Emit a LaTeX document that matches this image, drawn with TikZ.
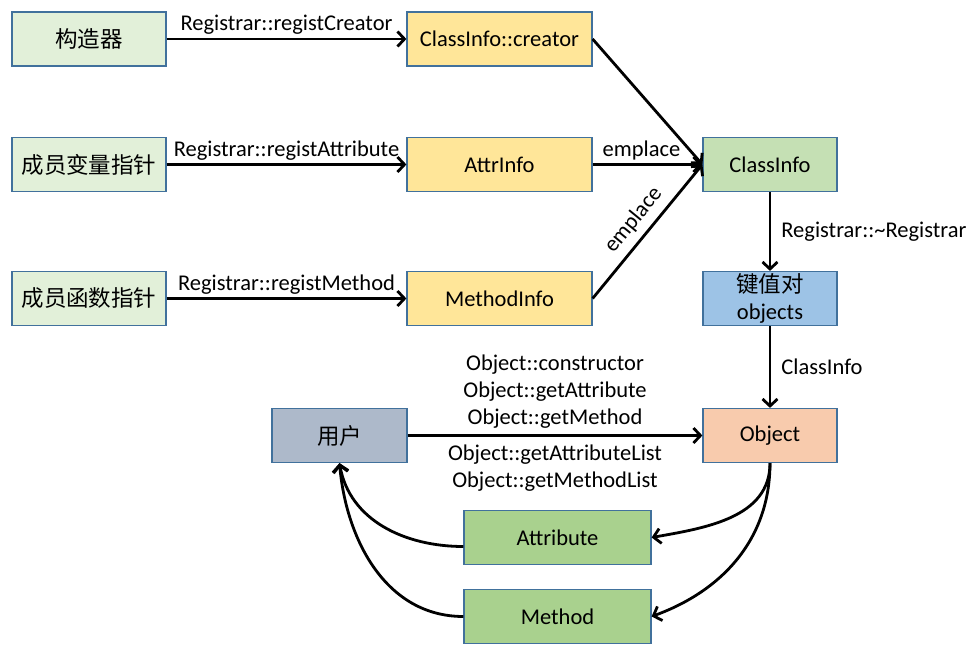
\documentclass[tikz,border=0pt]{standalone}
\usepackage{fontspec}
\setmainfont{Carlito}
\newfontfamily\cjk{Noto Sans CJK SC}
\usepackage{tikz}
\usetikzlibrary{arrows.meta}
\definecolor{boxline}{HTML}{41719C}
\definecolor{srcgreen}{HTML}{E2F0D9}
\definecolor{infoyellow}{HTML}{FFE699}
\definecolor{classgreen}{HTML}{C5E0B4}
\definecolor{mapblue}{HTML}{9DC3E6}
\definecolor{usergray}{HTML}{ADB9CA}
\definecolor{objpeach}{HTML}{F8CBAD}
\definecolor{memgreen}{HTML}{A9D18E}

\begin{document}
\begin{tikzpicture}[x=1pt, y=-1pt, font=\fontsize{22.5}{27}\selectfont,
                    box/.style={draw=boxline, line width=1.2pt, inner sep=0pt, minimum height=54pt, align=center},
                    src/.style={box, fill=srcgreen, minimum width=154pt},
                    info/.style={box, fill=infoyellow, minimum width=185pt},
                    core/.style={box, minimum width=134pt},
                    member/.style={box, fill=memgreen, minimum width=187pt},
                    arr/.style={line width=2.8pt, -{Straight Barb[length=7pt,width=15pt,line width=2.8pt]}},
                    lbl/.style={inner sep=3pt}]
                    \useasboundingbox (0,0) rectangle (978,657);
                    % registration side
                    \node[src] (ctor) at (89,39) {\cjk 构造器};
                    \node[src] (attrptr) at (89,164.5) {\cjk 成员变量指针};
                    \node[src] (methptr) at (89,298.5) {\cjk 成员函数指针};
                    \node[info] (creator) at (499.5,39) {ClassInfo::creator};
                    \node[info] (attrinfo) at (499.5,164.5) {AttrInfo};
                    \node[info] (methinfo) at (499.5,298.5) {MethodInfo};
                    \node[core, fill=classgreen] (classinfo) at (770,164.5) {ClassInfo};
                    \node[core, fill=mapblue] (objects) at (770,298.5) {\cjk 键值对\\objects};
                    % usage side
                    \node[core, fill=usergray, minimum width=135pt] (user) at (339.5,435.5) {\cjk 用户};
                    \node[core, fill=objpeach] (object) at (770,435.5) {Object};
                    \node[member] (attribute) at (557.5,537.5) {Attribute};
                    \node[member] (method) at (557.5,616.5) {Method};

                    \draw[arr] (ctor) -- node[lbl, above] {Registrar::registCreator} (creator);
                    \draw[arr] (attrptr) -- node[lbl, above] {Registrar::registAttribute} (attrinfo);
                    \draw[arr] (methptr) -- node[lbl, above] {Registrar::registMethod} (methinfo);
                    \draw[arr] (creator.east) -- (classinfo.west);
                    \draw[arr] (attrinfo.east) -- node[lbl, above, xshift=-6pt] {emplace} (classinfo.west);
                    \draw[arr] (methinfo.east) -- node[lbl, above=4pt, sloped] {emplace} (classinfo.west);
                    \draw[arr] (classinfo) -- node[lbl, right=7pt] {Registrar::\textasciitilde Registrar} (objects);
                    \draw[arr] (objects) -- node[lbl, right=7pt] {ClassInfo} (object);
                    \draw[arr] (user) -- node[lbl, above=3pt, align=center] {Object::constructor\\Object::getAttribute\\Object::getMethod}
                                         node[lbl, below=5pt, align=center] {Object::getAttributeList\\Object::getMethodList} (object);
                    \draw[arr] (object.south) to[out=-90, in=10] (attribute.east);
                    \draw[arr] (object.south) to[out=-90, in=20] (method.east);
                    \draw[arr] ([yshift=-9pt]attribute.west) to[out=180, in=-80] (user.south);
                    \draw[arr] (method.west) to[out=180, in=-85] (user.south);
                \end{tikzpicture}
\end{document}
